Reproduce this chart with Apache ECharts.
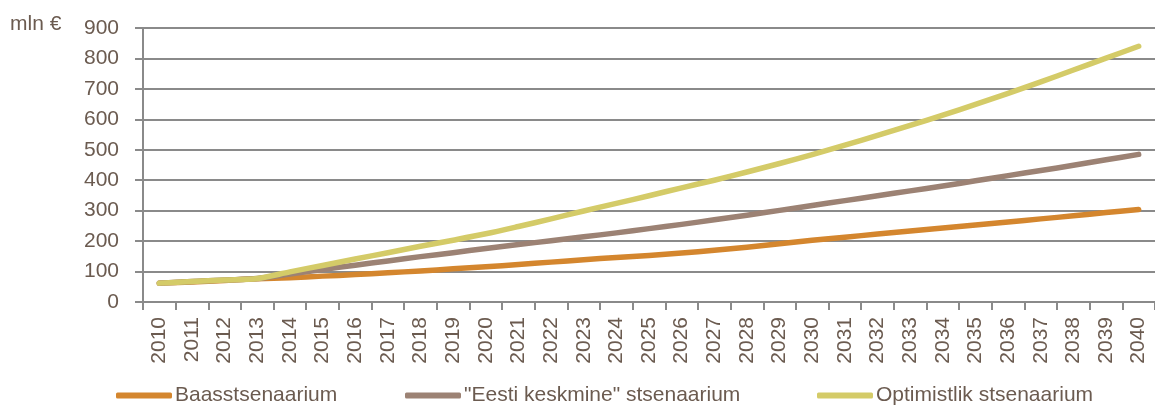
<!DOCTYPE html>
<html>
<head>
<meta charset="utf-8">
<script src="https://cdn.jsdelivr.net/npm/echarts@6/dist/echarts.min.js"></script>
<style>
  html, body { margin: 0; padding: 0; background: #fff; }
  #main { width: 1155px; height: 405px; }
</style>
</head>
<body>
<div id="main"></div>
<script>
// aastad 2010..2040
var years = ['2010', '2011', '2012', '2013', '2014', '2015', '2016', '2017', '2018', '2019',
  '2020', '2021', '2022', '2023', '2024', '2025', '2026', '2027', '2028', '2029',
  '2030', '2031', '2032', '2033', '2034', '2035', '2036', '2037', '2038', '2039', '2040'];

var seriesNames = ['Baasstsenaarium', '"Eesti keskmine" stsenaarium', 'Optimistlik stsenaarium'];

// mln €
var baas = [62, 66, 71, 76, 80, 85, 90, 96, 102, 109,
  116, 123, 131, 139, 146, 153, 161, 170, 180, 191,
  203, 213, 223, 233, 243, 253, 263, 273, 283, 294, 304];
var eesti = [62, 67, 72, 77, 92, 107, 121, 135, 149, 162,
  176, 189, 201, 214, 227, 241, 255, 270, 285, 301,
  317, 333, 349, 365, 381, 398, 415, 432, 449, 467, 485];
var optimistlik = [62, 67, 72, 77, 99, 120, 141, 162, 183, 203,
  224, 248, 273, 299, 324, 349, 375, 400, 427, 455,
  484, 515, 547, 580, 614, 649, 685, 723, 762, 801, 840];

var yTicks = [0, 100, 200, 300, 400, 500, 600, 700, 800, 900];

var colors = ['#d4862e', '#9c8274', '#d4cb68'];
var textColor = '#6b5b50';
var gridColor = '#8a8a8a';
var font = "'Liberation Sans', Arial, sans-serif";

var myChart = echarts.init(document.getElementById('main'));

var legendLeft = [116, 405, 817];
var legends = seriesNames.map(function (name, i) {
  return {
    data: [name],
    left: legendLeft[i],
    top: 385,
    icon: 'roundRect',
    itemWidth: 56,
    itemHeight: 6,
    itemGap: 0,
    padding: 0,
    textStyle: { color: textColor, fontSize: 21, fontFamily: font, padding: [0, 0, 0, -2] }
  };
});

myChart.setOption({
  animation: false,
  color: colors,
  title: {
    text: 'mln €',
    left: 10,
    top: 14,
    padding: 0,
    textStyle: { color: textColor, fontSize: 21, fontWeight: 'normal', fontFamily: font }
  },
  legend: legends,
  grid: {
    left: 143,
    right: -11,
    top: 28,
    bottom: 103
  },
  xAxis: {
    type: 'category',
    data: years,
    boundaryGap: true,
    axisLine: { show: true, lineStyle: { color: gridColor, width: 2 } },
    axisTick: { show: true, alignWithLabel: false, length: 8, lineStyle: { color: gridColor, width: 2 } },
    axisLabel: {
      interval: 0,
      rotate: 90,
      margin: 15,
      color: textColor,
      fontSize: 21,
      fontFamily: font
    },
    splitLine: { show: false }
  },
  yAxis: {
    type: 'value',
    min: yTicks[0],
    max: yTicks[yTicks.length - 1],
    interval: 100,
    axisLine: { show: true, lineStyle: { color: gridColor, width: 2 } },
    axisTick: { show: true, length: 8, lineStyle: { color: gridColor, width: 2 } },
    axisLabel: {
      margin: 24,
      color: textColor,
      fontSize: 21,
      fontFamily: font
    },
    splitLine: { show: true, lineStyle: { color: gridColor, width: 2 } }
  },
  series: [
    { name: seriesNames[0], type: 'line', data: baas },
    { name: seriesNames[1], type: 'line', data: eesti },
    { name: seriesNames[2], type: 'line', data: optimistlik }
  ].map(function (s) {
    s.smooth = 0.3;
    s.showSymbol = false;
    s.symbol = 'none';
    s.lineStyle = { width: 5.5, cap: 'round', join: 'round' };
    return s;
  })
});
</script>
</body>
</html>
